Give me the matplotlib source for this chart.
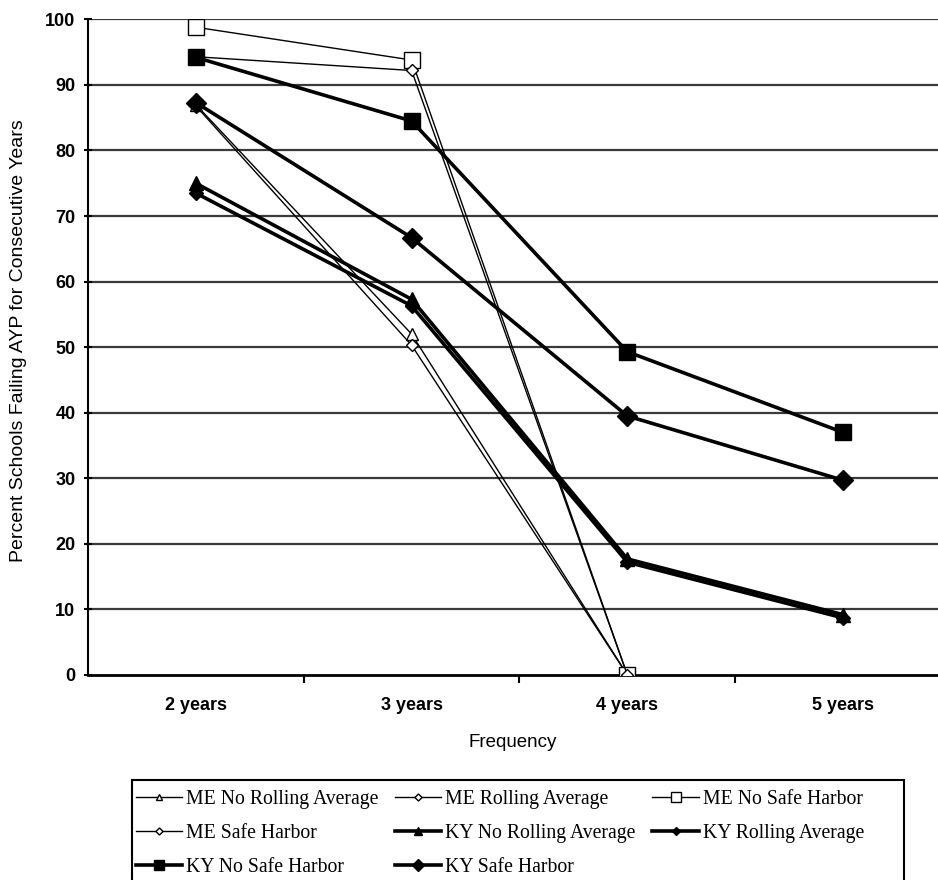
import matplotlib
matplotlib.use("Agg")
import matplotlib.pyplot as plt
from matplotlib.patches import Rectangle
import numpy as np

categories = ["2 years", "3 years", "4 years", "5 years"]

# percent of schools failing AYP (nan = no point)
me_no_rolling = [87.0, 52.0, 0.0, np.nan]
me_rolling = [86.8, 50.3, 0.0, np.nan]
me_no_safe = [98.8, 93.8, 0.0, np.nan]
me_safe = [94.3, 92.2, 0.0, np.nan]
ky_no_rolling = [75.0, 57.3, 17.7, 9.2]
ky_rolling = [73.5, 56.3, 17.2, 8.7]
ky_no_safe = [94.2, 84.5, 49.3, 37.0]
ky_safe = [87.3, 66.7, 39.5, 29.7]

x = np.arange(len(categories))

fig = plt.figure(figsize=(9.38, 8.8), dpi=100)
ax = fig.add_axes([0.0938, 0.233, 0.9062, 0.745])

# grid first
for v in range(10, 101, 10):
    ax.axhline(v, color="#3a3a3a", lw=1.6, zorder=1)

thin = dict(color="black", lw=1.0, zorder=3)
thick = dict(color="black", lw=2.6, zorder=4)

l1, = ax.plot(x, me_no_rolling, marker="^", ms=8, mfc="white", mec="black",
              label="ME No Rolling Average", **thin)
l2, = ax.plot(x, me_rolling, marker="D", ms=6, mfc="white", mec="black",
              label="ME Rolling Average", **thin)
l3, = ax.plot(x, me_no_safe, marker="s", ms=12, mfc="white", mec="black",
              label="ME No Safe Harbor", **thin)
l4, = ax.plot(x, me_safe, marker="D", ms=6, mfc="white", mec="black",
              label="ME Safe Harbor", **thin)
l5, = ax.plot(x, ky_no_rolling, marker="^", ms=10, mfc="black", mec="black",
              label="KY No Rolling Average", **thick)
l6, = ax.plot(x, ky_rolling, marker="D", ms=7, mfc="black", mec="black",
              label="KY Rolling Average", **thick)
l7, = ax.plot(x, ky_no_safe, marker="s", ms=12, mfc="black", mec="black",
              label="KY No Safe Harbor", **thick)
l8, = ax.plot(x, ky_safe, marker="D", ms=10, mfc="black", mec="black",
              label="KY Safe Harbor", **thick)

ax.set_xlim(-0.5, 3.44)
ax.set_ylim(0, 100)
ax.set_yticks(range(0, 101, 10))
ax.set_xticks(x)
ax.set_xticklabels(categories)
ax.set_xticks([0.5, 1.5, 2.5], minor=True)
ax.tick_params(axis="x", which="major", length=0, pad=16)
ax.tick_params(axis="x", which="minor", length=6, width=1.5, direction="out")
ax.tick_params(axis="y", length=6, width=1.5, direction="inout", pad=6)

for lab in ax.get_xticklabels() + ax.get_yticklabels():
    lab.set_fontfamily("Liberation Sans")
    lab.set_fontweight("bold")
    lab.set_fontsize(13)

ax.set_xlabel("Frequency", family="Liberation Sans", fontsize=13.5, labelpad=14)
ax.set_ylabel("Percent Schools Failing AYP for Consecutive Years",
              family="Liberation Sans", fontsize=14)
ax.yaxis.set_label_coords(-0.072, 0.51)

ax.spines["top"].set_visible(False)
ax.spines["right"].set_visible(False)
ax.spines["left"].set_linewidth(1.5)
ax.spines["bottom"].set_linewidth(2.0)

# row-wise order for a column-filled legend
handles = [l1, l4, l7, l2, l5, l8, l3, l6]
leg = fig.legend(handles=handles, labels=[h.get_label() for h in handles],
                 ncol=3, loc="upper left",
                 bbox_to_anchor=(0.1445, 0.102),
                 frameon=False, markerscale=0.6,
                 prop={"family": "Liberation Serif", "size": 14.2},
                 handlelength=2.35, handletextpad=0.2, labelspacing=0.75,
                 columnspacing=0.85, borderpad=0.0, borderaxespad=0)

# legend box is wider than its entries in the original
fig.patches.append(Rectangle((0.1407, -0.01), 0.823, 0.124,
                             transform=fig.transFigure, fill=False,
                             edgecolor="black", lw=1.5))

fig.savefig("out.png", dpi=100)
